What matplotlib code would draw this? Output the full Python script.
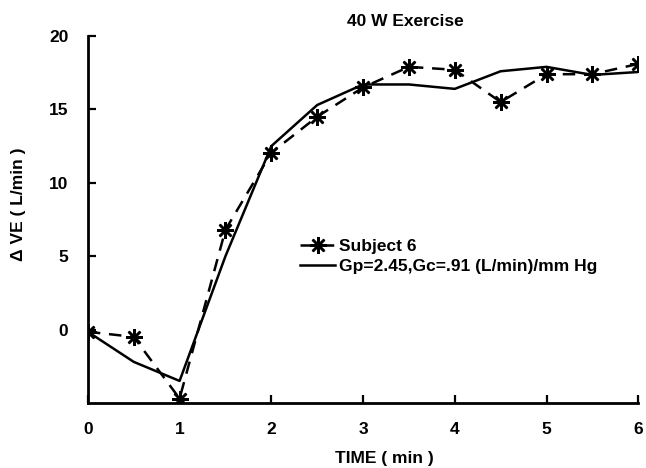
import numpy as np
import matplotlib
matplotlib.use("Agg")
import matplotlib.pyplot as plt

plt.rcParams['font.family'] = ['Liberation Sans', 'DejaVu Sans']
plt.rcParams['font.weight'] = 'bold'

# time points (min)
t = [0, 0.5, 1, 1.5, 2, 2.5, 3, 3.5, 4, 4.5, 5, 5.5, 6]
# measured change in ventilation, subject 6
subject6 = [-0.15, -0.5, -4.7, 6.8, 12.05, 14.5, 16.5, 17.9, 17.7, 15.5, 17.4, 17.4, 18.1]
# model fit
model = [-0.15, -2.2, -3.5, 5.0, 12.5, 15.3, 16.7, 16.7, 16.4, 17.6, 17.9, 17.35, 17.55]

xticks = [0, 1, 2, 3, 4, 5, 6]
yticks = [0, 5, 10, 15, 20]

fs = 12.5

fig = plt.figure(figsize=(6.46, 4.68), dpi=100)
ax = fig.add_axes([0.136, 0.139, 0.852, 0.784])

ax.plot(t, subject6, color='black', lw=1.8, dashes=(5, 3.5),
        marker=(8, 2, 0), markersize=12, markeredgewidth=1.8,
        label='Subject 6')
ax.plot(t, model, color='black', lw=1.8,
        label='Gp=2.45,Gc=.91 (L/min)/mm Hg')

ax.set_xlim(0, 6)
ax.set_ylim(-5, 20)
ax.set_xticks(xticks)
ax.set_yticks(yticks)
ax.tick_params(direction='in', length=6, width=1.6, labelsize=fs, pad=14)
for lbl in ax.get_xticklabels() + ax.get_yticklabels():
    lbl.set_fontweight('bold')

ax.spines['top'].set_visible(False)
ax.spines['right'].set_visible(False)
ax.spines['left'].set_linewidth(2)
ax.spines['bottom'].set_linewidth(2)

ax.set_xlabel('TIME ( min )', fontsize=fs, fontweight='bold')
ax.xaxis.set_label_coords(0.538, -0.132)
ax.set_ylabel('\u0394 VE ( L/min )', fontsize=fs, fontweight='bold')
ax.yaxis.set_label_coords(-0.112, 0.542)

fig.text(0.627, 0.955, '40 W Exercise', ha='center', va='center',
         fontsize=fs, fontweight='bold')

leg = ax.legend(loc='upper left', bbox_to_anchor=(0.386, 0.447), frameon=False,
                fontsize=fs, handlelength=2.0, handletextpad=0.25,
                labelspacing=0.3, borderaxespad=0, borderpad=0)
for txt in leg.get_texts():
    txt.set_fontweight('bold')

fig.savefig('out.png', dpi=100)
